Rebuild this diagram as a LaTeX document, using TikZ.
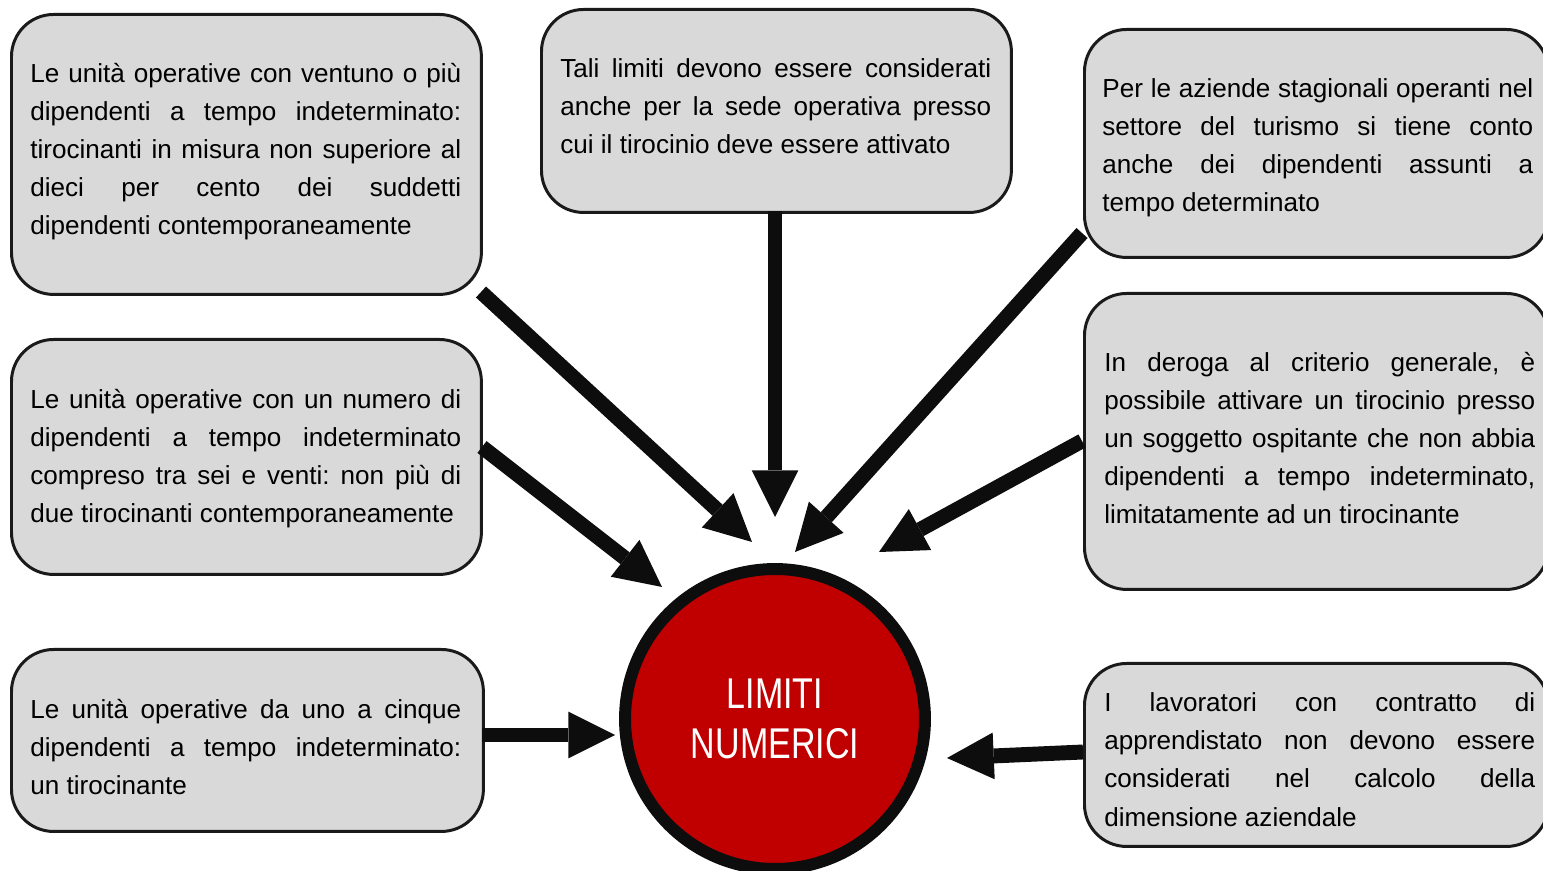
\documentclass[tikz,border=0pt]{standalone}
\usepackage{fontspec}
\setmainfont{Liberation Sans}
\newfontfamily\titlefont[FakeStretch=0.79]{Liberation Sans}
\usetikzlibrary{arrows.meta}
\setlength{\parindent}{0pt}
\frenchspacing
\newlength{\tw}
\setlength{\tw}{8.62cm}
\newcommand{\rs}{\frenchspacing\spaceskip=0pt\relax\xspaceskip=0pt\relax}
\newcommand{\jl}[1]{\makebox[\tw][s]{\rs #1}\\}
\definecolor{boxfill}{HTML}{D9D9D9}
\definecolor{boxline}{HTML}{1A1A1A}
\definecolor{arrowc}{HTML}{0D0D0D}
\definecolor{redc}{HTML}{C00000}
\begin{document}
\begin{tikzpicture}[x=0.02cm, y=-0.02cm,
  box/.style={draw=boxline, line width=1.7pt, fill=boxfill, rounded corners=0.84cm, inner sep=0pt, anchor=north west},
  txt/.style={anchor=north west, inner sep=0pt, text width=\tw, align=left, font=\fontsize{14.85}{21.7}\selectfont},
  conn/.style={draw=arrowc, line width=8.5pt, -{Triangle[length=26.6pt, width=26.6pt, line width=0pt]}}
]
\useasboundingbox (0,0) rectangle (1543,871);

% boxes
\node[box, minimum width=9.4cm,  minimum height=5.6cm]  (b1) at (10,13) {};
\node[box, minimum width=9.4cm,  minimum height=4.06cm] (b2) at (540,8) {};
\node[box, minimum width=9.28cm, minimum height=4.56cm] (b3) at (1083,28) {};
\node[box, minimum width=9.4cm,  minimum height=4.7cm]  (b4) at (10,338) {};
\node[box, minimum width=9.28cm, minimum height=5.92cm] (b5) at (1083,292) {};
\node[box, minimum width=9.44cm, minimum height=3.64cm] (b6) at (10,648) {};
\node[box, minimum width=9.28cm, minimum height=3.66cm] (b7) at (1083,662) {};

% texts
\node[txt] (t1) at (30,55.2) {\rs\strut\jl{Le unità operative con ventuno o più}\jl{dipendenti a tempo indeterminato:}\jl{tirocinanti in misura non superiore al}\jl{dieci per cento dei suddetti}dipendenti contemporaneamente};
\node[txt] (t2) at (560,50.2) {\rs\strut\jl{Tali limiti devono essere considerati}\jl{anche per la sede operativa presso}cui il tirocinio deve essere attivato};
\node[txt] (t3) at (1102,70.2) {\rs\strut\jl{Per le aziende stagionali operanti nel}\jl{settore del turismo si tiene conto}\jl{anche dei dipendenti assunti a}tempo determinato};
\node[txt] (t4) at (30,381.2) {\rs\strut\jl{Le unità operative con un numero di}\jl{dipendenti a tempo indeterminato}\jl{compreso tra sei e venti: non più di}due tirocinanti contemporaneamente};
\node[txt] (t5) at (1104,344.2) {\rs\strut\jl{In deroga al criterio generale, è}\jl{possibile attivare un tirocinio presso}\jl{un soggetto ospitante che non abbia}\jl{dipendenti a tempo indeterminato,}limitatamente ad un tirocinante};
\node[txt] (t6) at (30,691.2) {\rs\strut\jl{Le unità operative da uno a cinque}\jl{dipendenti a tempo indeterminato:}un tirocinante};
\node[txt] (t7) at (1104,684.7) {\rs\strut\jl{I lavoratori con contratto di}\jl{apprendistato non devono essere}\jl{considerati nel calcolo della}dimensione aziendale};

% centre
\node[circle, draw=arrowc, line width=6.8pt, fill=redc, minimum size=6cm, inner sep=0pt,
      align=center, text=white, font=\titlefont\fontsize{24.5}{28.9}\selectfont] (c) at (775,719) {LIMITI\\NUMERICI};

% arrow end points
\coordinate (s1) at (481,292);  \coordinate (e1) at (752,542);
\coordinate (s2) at (482,447);  \coordinate (e2) at (662,587);
\coordinate (s3) at (775,211);  \coordinate (e3) at (775,517);
\coordinate (s4) at (1082,233); \coordinate (e4) at (795,552);
\coordinate (s5) at (1082,441); \coordinate (e5) at (879,552);
\coordinate (s6) at (482,735);  \coordinate (e6) at (615,735);
\coordinate (s7) at (1083,752); \coordinate (e7) at (947,758);

\draw[conn] (s1) -- (e1);
\draw[conn] (s2) -- (e2);
\draw[conn] (s3) -- (e3);
\draw[conn] (s4) -- (e4);
\draw[conn] (s5) -- (e5);
\draw[conn] (s6) -- (e6);
\draw[conn] (s7) -- (e7);
\end{tikzpicture}
\end{document}
